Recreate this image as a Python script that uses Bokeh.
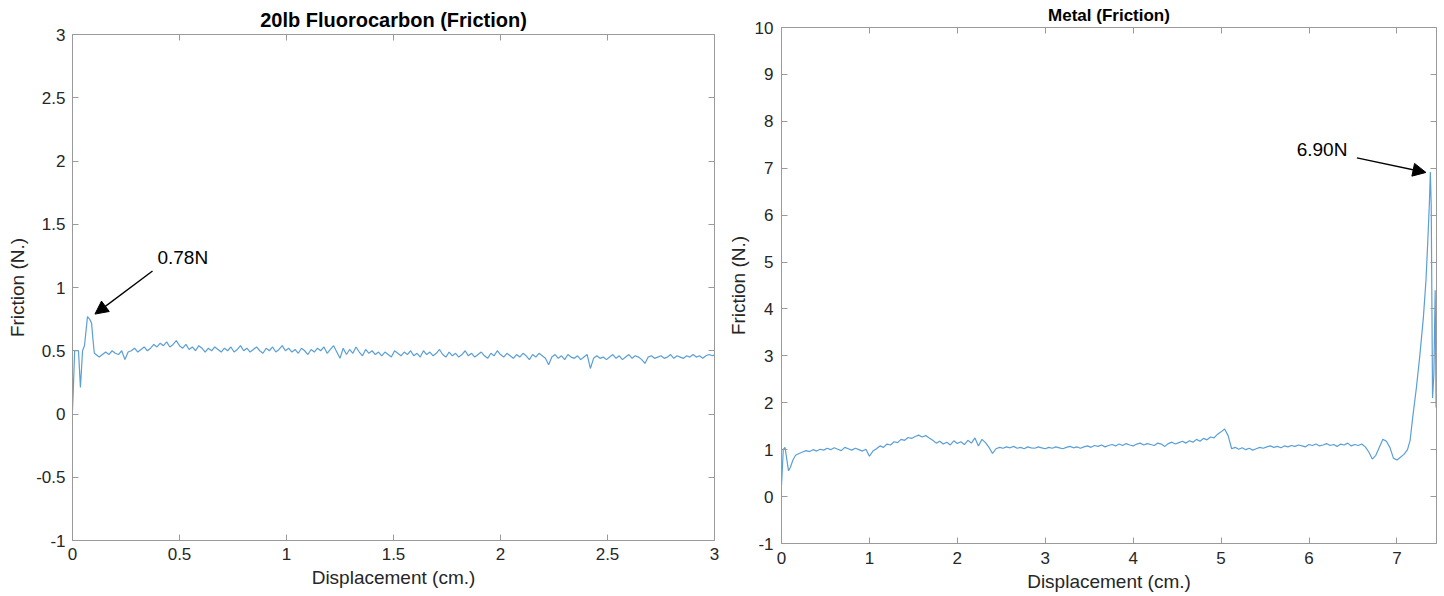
import numpy as np
from bokeh.plotting import figure
from bokeh.layouts import row, column
from bokeh.models import Range1d, LinearAxis, FixedTicker, Arrow, NormalHead, Label, CustomJSTickFormatter
from bokeh.embed import file_html
from bokeh.resources import INLINE

# ---------------- data: 20lb Fluorocarbon ----------------
fluoro_title = "20lb Fluorocarbon (Friction)"
fluoro_head_x = [0.0, 0.004, 0.01, 0.028, 0.037, 0.047, 0.056, 0.07, 0.08, 0.089, 0.095, 0.102]
fluoro_head_y = [0.03, 0.2, 0.5, 0.5, 0.21, 0.5, 0.54, 0.77, 0.75, 0.72, 0.6, 0.48]
fluoro_start = 0.11   # cm, first sample of the steady part
fluoro_step = 0.015   # cm between samples
fluoro_y = [
    0.47, 0.45, 0.47, 0.49, 0.47, 0.50, 0.48, 0.47, 0.50, 0.43,
    0.49, 0.50, 0.52, 0.49, 0.51, 0.53, 0.50, 0.52, 0.55, 0.53,
    0.56, 0.54, 0.57, 0.53, 0.55, 0.58, 0.54, 0.52, 0.55, 0.51,
    0.53, 0.50, 0.54, 0.52, 0.49, 0.52, 0.50, 0.53, 0.51, 0.49,
    0.52, 0.50, 0.53, 0.49, 0.51, 0.54, 0.50, 0.52, 0.49, 0.51,
    0.53, 0.50, 0.48, 0.52, 0.50, 0.53, 0.49, 0.51, 0.54, 0.50,
    0.52, 0.49, 0.51, 0.48, 0.52, 0.50, 0.47, 0.51, 0.49, 0.52,
    0.50, 0.53, 0.48, 0.51, 0.54, 0.49, 0.44, 0.52, 0.47, 0.51,
    0.48, 0.53, 0.49, 0.46, 0.51, 0.48, 0.50, 0.47, 0.49, 0.46,
    0.49, 0.47, 0.45, 0.50, 0.48, 0.46, 0.49, 0.47, 0.50, 0.46,
    0.48, 0.45, 0.50, 0.47, 0.49, 0.46, 0.48, 0.51, 0.47, 0.45,
    0.49, 0.46, 0.48, 0.45, 0.47, 0.50, 0.46, 0.48, 0.45, 0.47,
    0.49, 0.46, 0.44, 0.48, 0.46, 0.50, 0.47, 0.45, 0.48, 0.46,
    0.44, 0.47, 0.45, 0.48, 0.46, 0.43, 0.47, 0.45, 0.48, 0.46,
    0.44, 0.39, 0.45, 0.47, 0.44, 0.46, 0.43, 0.47, 0.45, 0.44,
    0.46, 0.43, 0.45, 0.47, 0.36, 0.44, 0.46, 0.44, 0.45, 0.43,
    0.45, 0.47, 0.44, 0.46, 0.43, 0.45, 0.47, 0.44, 0.46, 0.45,
    0.43, 0.40, 0.45, 0.46, 0.44, 0.45, 0.46, 0.44, 0.45, 0.47,
    0.44, 0.46, 0.45, 0.44, 0.46, 0.45, 0.47, 0.45, 0.46, 0.44,
    0.46, 0.47, 0.46, 0.47,
]
fluoro_xticks = [0, 0.5, 1, 1.5, 2, 2.5, 3]
fluoro_yticks = [-1, -0.5, 0, 0.5, 1, 1.5, 2, 2.5, 3]
fluoro_peak = 0.78

# ---------------- data: Metal ----------------
metal_title = "Metal (Friction)"
metal_head_x = [0.0, 0.01, 0.02, 0.04, 0.06, 0.08, 0.10, 0.13, 0.16]
metal_head_y = [0.25, 0.6, 1.0, 1.05, 0.8, 0.55, 0.62, 0.78, 0.88]
metal_start = 0.20
metal_step = 0.04
metal_y = [
    0.92, 0.95, 0.98, 0.96, 1.00, 0.97, 1.01, 0.99, 1.03, 1.00,
    1.04, 1.01, 0.98, 1.05, 1.02, 0.99, 1.03, 1.00, 0.97, 1.01,
    0.86, 0.97, 1.02, 1.08, 1.05, 1.12, 1.10, 1.17, 1.15, 1.22,
    1.20, 1.26, 1.24, 1.28, 1.31, 1.27, 1.30, 1.25, 1.20, 1.14,
    1.18, 1.12, 1.16, 1.10, 1.19, 1.13, 1.17, 1.11, 1.20, 1.14,
    1.25, 1.08, 1.22, 1.15, 1.05, 0.92, 1.02, 1.05, 1.03, 1.06,
    1.04, 1.07, 1.03, 1.05, 1.02, 1.06, 1.04, 1.03, 1.06, 1.04,
    1.02, 1.05, 1.03, 1.06, 1.04, 1.02, 1.05, 1.07, 1.04, 1.06,
    1.03, 1.06, 1.08, 1.05, 1.09, 1.07, 1.10, 1.06, 1.09, 1.11,
    1.08, 1.12, 1.09, 1.13, 1.10, 1.08, 1.12, 1.14, 1.10, 1.13,
    1.11, 1.09, 1.14, 1.12, 1.07, 1.13, 1.16, 1.12, 1.15, 1.18,
    1.14, 1.19, 1.16, 1.22, 1.18, 1.24, 1.21, 1.27, 1.25, 1.33,
    1.38, 1.44, 1.30, 1.02, 1.05, 1.01, 1.04, 1.00, 1.03, 0.99,
    1.02, 1.05, 1.03, 1.06, 1.08, 1.05, 1.07, 1.04, 1.08, 1.06,
    1.09, 1.07, 1.10, 1.08, 1.06, 1.11, 1.09, 1.12, 1.08, 1.10,
    1.13, 1.09, 1.11, 1.07, 1.12, 1.10, 1.14, 1.08, 1.11, 1.09,
    1.12, 1.06, 0.95, 0.80, 0.88, 1.05, 1.22, 1.18, 1.05, 0.82,
    0.78, 0.84, 0.90,
]
metal_tail_x = [7.12, 7.15, 7.18, 7.22, 7.26, 7.30, 7.33, 7.35, 7.37, 7.38, 7.39, 7.405, 7.42, 7.435, 7.445]
metal_tail_y = [1.0, 1.2, 1.7, 2.3, 3.0, 3.8, 4.6, 5.4, 6.3, 6.92, 6.2, 2.1, 2.6, 4.4, 1.9]
metal_xticks = [0, 1, 2, 3, 4, 5, 6, 7]
metal_yticks = [-1, 0, 1, 2, 3, 4, 5, 6, 7, 8, 9, 10]
metal_peak = 6.90

x_label = "Displacement (cm.)"
y_label = "Friction (N.)"

# ---------------- style ----------------
FONT = "Liberation Sans"
AX = "#9a9a9a"
TXT = "#262626"
LINE = "#5a9fd6"

fmt_num = CustomJSTickFormatter(code="return tick.toString();")
fmt_empty = CustomJSTickFormatter(code="return '';")


def add_axes(p, xticks, yticks, x_std, y_std, y_lab_std):
    common = dict(axis_line_color=AX, axis_line_width=1, major_tick_line_color=AX,
                  major_tick_in=6, major_tick_out=0, minor_tick_line_color=None)
    lab = dict(major_label_text_font=FONT, major_label_text_font_size="17px",
               major_label_text_color=TXT, axis_label_text_font=FONT,
               axis_label_text_font_size="19px", axis_label_text_font_style="normal",
               axis_label_text_color=TXT)
    bx = LinearAxis(ticker=FixedTicker(ticks=xticks), formatter=fmt_num, axis_label=x_label,
                    major_label_standoff=x_std, axis_label_standoff=4, **common, **lab)
    ly = LinearAxis(ticker=FixedTicker(ticks=yticks), formatter=fmt_num, axis_label=y_label,
                    major_label_standoff=y_std, axis_label_standoff=y_lab_std, **common, **lab)
    tx = LinearAxis(ticker=FixedTicker(ticks=xticks), formatter=fmt_empty,
                    major_label_standoff=0, major_label_text_font_size="1px", **common)
    ry = LinearAxis(ticker=FixedTicker(ticks=yticks), formatter=fmt_empty,
                    major_label_standoff=0, major_label_text_font_size="1px", **common)
    p.add_layout(bx, "below")
    p.add_layout(ly, "left")
    p.add_layout(tx, "above")
    p.add_layout(ry, "right")


def make_fig(title, title_size, title_std, xr, yr, w, h, bl, br, bt, bb):
    p = figure(width=w, height=h, x_range=Range1d(*xr), y_range=Range1d(*yr),
               output_backend="svg", toolbar_location=None,
               x_axis_location=None, y_axis_location=None,
               min_border_left=bl, min_border_right=br, min_border_top=bt, min_border_bottom=bb)
    p.grid.visible = False
    p.outline_line_color = None
    p.background_fill_color = "white"
    p.border_fill_color = "white"
    p.title.text = title
    p.title.align = "center"
    p.title.text_font = FONT
    p.title.text_font_size = title_size
    p.title.text_font_style = "bold"
    p.title.text_color = "black"
    p.title.standoff = title_std
    return p


# ---------------- left figure ----------------
p1 = make_fig(fluoro_title, "20px", 8, (0, 3), (-1, 3), 720, 590, 72, 6, 34, 50)
add_axes(p1, fluoro_xticks, fluoro_yticks, 7, 7, 5)
fx = fluoro_head_x + list(fluoro_start + fluoro_step * np.arange(len(fluoro_y)))
fy = fluoro_head_y + fluoro_y
p1.line(fx, fy, line_color=LINE, line_width=1.2)
p1.add_layout(Arrow(x_start=0.374, y_start=1.13, x_end=0.105, y_end=0.79,
                    line_color="black", line_width=1.4,
                    end=NormalHead(size=13, fill_color="black", line_color="black")))
p1.add_layout(Label(x=0.397, y=1.24, text=f"{fluoro_peak:.2f}N", text_font=FONT,
                    text_font_size="19px", text_baseline="middle", text_color="black"))

# ---------------- right figure ----------------
p2 = make_fig(metal_title, "17px", 5, (0, 7.45), (-1, 10), 722, 594, 61, 6, 27, 48)
add_axes(p2, metal_xticks, metal_yticks, 8, 8, 3)
mx = metal_head_x + list(metal_start + metal_step * np.arange(len(metal_y))) + metal_tail_x
my = metal_head_y + metal_y + metal_tail_y
p2.line(mx, my, line_color=LINE, line_width=1.2)
p2.add_layout(Arrow(x_start=6.545, y_start=7.22, x_end=7.33, y_end=6.91,
                    line_color="black", line_width=1.4,
                    end=NormalHead(size=13, fill_color="black", line_color="black")))
p2.add_layout(Label(x=5.86, y=7.39, text=f"{metal_peak:.2f}N", text_font=FONT,
                    text_font_size="19px", text_baseline="middle", text_color="black"))

# wrap each figure on its own so their frames are not aligned with each other
layout = row(column(p1), column(p2))
open("out.html", "w").write(file_html(layout, INLINE))
